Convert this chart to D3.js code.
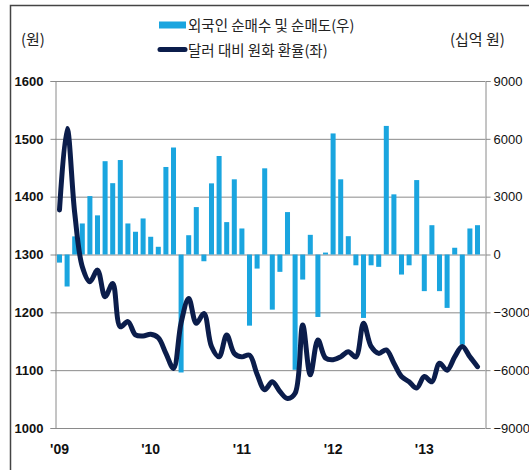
<!DOCTYPE html>
<html><head><meta charset="utf-8">
<script src="https://cdn.jsdelivr.net/npm/d3@7"></script>
<style>html,body{margin:0;padding:0;background:#fff;}svg{display:block;}</style>
</head><body>
<svg id="c" width="529" height="470"></svg>
<script>
const months = [
"2009-01","2009-02","2009-03","2009-04","2009-05","2009-06","2009-07","2009-08","2009-09","2009-10","2009-11","2009-12",
"2010-01","2010-02","2010-03","2010-04","2010-05","2010-06","2010-07","2010-08","2010-09","2010-10","2010-11","2010-12",
"2011-01","2011-02","2011-03","2011-04","2011-05","2011-06","2011-07","2011-08","2011-09","2011-10","2011-11","2011-12",
"2012-01","2012-02","2012-03","2012-04","2012-05","2012-06","2012-07","2012-08","2012-09","2012-10","2012-11","2012-12",
"2013-01","2013-02","2013-03","2013-04","2013-05","2013-06","2013-07","2013-08"];
// 외국인 순매수 및 순매도 (십억 원, right axis)
const netBuy = [
-420,-1660,940,1610,3030,2030,4840,3700,4900,1610,1180,1870,
920,400,4540,5550,-6120,1000,2460,-350,3690,5110,1680,3900,
1350,-3690,-730,4470,-2860,-900,2200,-5980,-1300,1020,-3240,100,
6280,3900,950,-560,-3290,-560,-640,6670,3120,-1040,-560,3860,
-1900,1520,-1900,-2770,350,-4680,1350,1520];
// 달러 대비 원화 환율 (원, left axis)
const fxRate = [
1377,1518,1372,1279,1253,1273,1227,1250,1175,1184,1161,1159,
1162,1156,1129,1103,1182,1224,1181,1198,1141,1123,1161,1129,
1123,1126,1093,1066,1080,1063,1051,1060,1178,1092,1152,1121,
1118,1123,1132,1123,1181,1141,1129,1135,1112,1089,1080,1069,
1089,1080,1112,1100,1123,1141,1123,1106];
const leftTicks = [1000,1100,1200,1300,1400,1500,1600];
const rightTicks = [-9000,-6000,-3000,0,3000,6000,9000];
const yearLabels = {"2009-01":"'09","2010-01":"'10","2011-01":"'11","2012-01":"'12","2013-01":"'13"};
const legendLabels = ["외국인 순매수 및 순매도(우)","달러 대비 원화 환율(좌)"];
const unitLeft = "(원)", unitRight = "(십억 원)";

const svg = d3.select("#c");
const X0 = 55, X1 = 485, YT = 81, YB = 428;
const barColor = "#1aa5df", lineColor = "#0b1d4b", gridColor = "#8a8a8a";

svg.append("rect").attr("width",529).attr("height",470).attr("fill","#fff");
// outer frame (left & top)
svg.append("path").attr("d","M10.5,470V5.5H529").attr("fill","none").attr("stroke","#444").attr("stroke-width",1.5);

const x = d3.scaleBand().domain(months).range([55.7, 481.3]).paddingInner(0.34).paddingOuter(0.17);
const yL = d3.scaleLinear().domain([1000,1600]).range([YB, YT]);
const yR = d3.scaleLinear().domain([-9000,9000]).range([YB, YT]);

// gridlines
svg.append("g").selectAll("line").data(leftTicks).join("line")
  .attr("x1",X0).attr("x2",X1).attr("y1",d=>yL(d)+0.5).attr("y2",d=>yL(d)+0.5)
  .attr("stroke",gridColor).attr("stroke-width",1);

// bars
svg.append("g").selectAll("rect").data(netBuy).join("rect")
  .attr("x",(d,i)=>x(months[i]))
  .attr("width",x.bandwidth())
  .attr("y",d=>yR(Math.max(0,d)))
  .attr("height",d=>Math.abs(yR(d)-yR(0)))
  .attr("fill",barColor);

// line
const line = d3.line().x((d,i)=>x(months[i])+x.bandwidth()/2).y(d=>yL(d)).curve(d3.curveCatmullRom.alpha(0.5));
svg.append("path").datum(fxRate).attr("d",line).attr("fill","none")
  .attr("stroke",lineColor).attr("stroke-width",5).attr("stroke-linejoin","round").attr("stroke-linecap","round");

// axes
const axL = svg.append("g").attr("transform",`translate(${X0+0.5},0)`)
  .call(d3.axisLeft(yL).tickValues(leftTicks).tickSize(5).tickPadding(7).tickFormat(d3.format("d")));
const axR = svg.append("g").attr("transform",`translate(${X1+0.5},0)`)
  .call(d3.axisRight(yR).tickValues(rightTicks).tickSize(5).tickPadding(3).tickFormat(d3.format("d")));
[axL,axR].forEach(a=>{
  a.selectAll(".domain").attr("stroke",gridColor);
  a.selectAll(".tick line").attr("stroke",gridColor);
  a.selectAll("text").attr("fill","#111").style("font-family","'Liberation Sans',Arial,sans-serif");
});
axL.selectAll("text").style("font-size","13px").style("font-weight","bold");
axR.selectAll("text").style("font-size","13px");

// x labels
const axB = svg.append("g").attr("transform",`translate(0,${YB})`)
  .call(d3.axisBottom(x).tickValues(Object.keys(yearLabels)).tickSize(0).tickPadding(16).tickFormat(d=>yearLabels[d]));
axB.select(".domain").remove();
axB.selectAll("text").attr("fill","#111").style("font-family","'Liberation Sans',Arial,sans-serif")
  .style("font-size","14px").style("font-weight","bold");

// units
const kfont = "'Noto Sans CJK KR','Noto Sans',sans-serif";
svg.append("text").attr("x",21).attr("y",45).text(unitLeft).attr("fill","#222")
  .style("font-family",kfont).style("font-size","15px");
svg.append("text").attr("x",450).attr("y",45).text(unitRight).attr("fill","#222")
  .style("font-family",kfont).style("font-size","15px");

// legend
svg.append("rect").attr("x",159).attr("y",21.5).attr("width",27).attr("height",7).attr("fill",barColor);
svg.append("line").attr("x1",160).attr("x2",185).attr("y1",49.5).attr("y2",49.5)
  .attr("stroke",lineColor).attr("stroke-width",5).attr("stroke-linecap","round");
svg.append("text").attr("x",188).attr("y",30.5).text(legendLabels[0]).attr("fill","#222")
  .style("font-family",kfont).style("font-size","14.5px");
svg.append("text").attr("x",188).attr("y",55.5).text(legendLabels[1]).attr("fill","#222")
  .style("font-family",kfont).style("font-size","14.5px");
</script>
</body></html>
